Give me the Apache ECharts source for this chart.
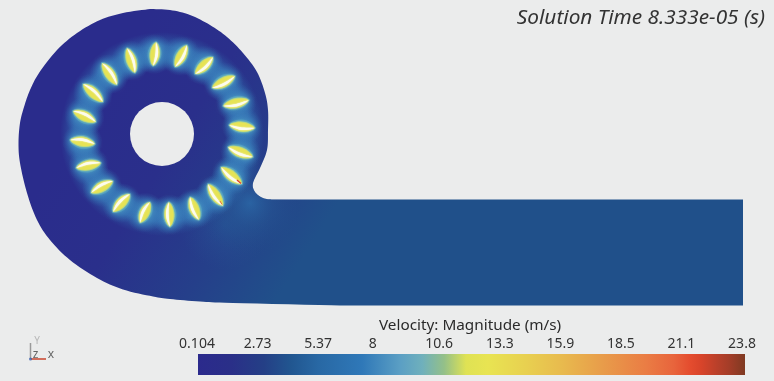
<!DOCTYPE html>
<html>
<head>
<meta charset="utf-8">
<style>html,body{margin:0;padding:0;background:#ebecec}#main{width:774px;height:381px;filter:blur(0.35px)}</style>
<script src="https://cdn.jsdelivr.net/npm/echarts@6/dist/echarts.min.js"></script>
</head>
<body>
<div id="main"></div>
<script>
// volute outline, x / y in image pixels, clockwise from the top
var casingX = [150, 170, 190, 210, 227, 243, 257, 265, 268, 268, 267, 260, 253, 255, 263, 272];
var casingY = [9, 10, 15, 25, 37, 53, 72, 93, 110, 130, 150, 168, 183, 192, 198, 199.5];
var ductX = [743, 743];
var ductY = [199.5, 305.5];
var lowerX = [340, 233, 200, 170, 153, 123, 97, 70, 50, 37, 27, 20, 18.5, 20, 24, 30, 39, 57, 77, 100, 123, 150];
var lowerY = [305.5, 303, 301.5, 299, 296.5, 289.5, 278, 260, 240, 220, 193, 163, 143, 123, 107, 90, 73, 50, 33, 20, 13, 9];
var hub = [162, 134, 32];

// blades: outer tip and inner tip
var bladeOuterX = [156, 187, 213, 235, 249, 255, 253, 242, 223, 199, 170, 140, 113, 91, 76, 70, 73, 83, 102, 127];
var bladeOuterY = [42, 45, 57, 76, 100, 128, 157, 184, 206, 220, 227, 223, 212, 193, 168, 140, 111, 84, 63, 48];
var bladeInnerX = [153, 175, 195, 212, 223, 229, 228, 221, 208, 190, 169, 150, 130, 113, 101, 95, 96, 103, 117, 135];
var bladeInnerY = [66, 67, 74, 88, 106, 125, 147, 167, 184, 197, 202, 202, 194, 181, 163, 144, 122, 102, 85, 73];
// the red hot spots on two blade tips
var hotTipA = [[237, 180], [241, 183.5]];
var hotTipB = [[220, 201], [222, 204.5]];

// colour bar
var velocityMin = 0.104;
var velocityMax = 23.8;
var tickLabels = ['0.104', '2.73', '5.37', '8', '10.6', '13.3', '15.9', '18.5', '21.1', '23.8'];
var barStops = [0, 0.06, 0.12, 0.17, 0.22, 0.3, 0.37, 0.41, 0.45, 0.49, 0.53, 0.6, 0.66, 0.74, 0.82, 0.87, 0.9, 0.92, 0.95, 0.97, 1];
var barColors = ['#2b2a8c', '#2a2f88', '#243f86', '#215690', '#2868a4', '#2f78b8', '#5b9fc4', '#6fb0bc', '#94c088', '#dfe254', '#e8e452', '#e8d050', '#e8bc4e', '#e89c4a', '#ea7c44', '#e8643c', '#e44c2e', '#d8442a', '#b8402a', '#a53d28', '#7f3a22'];

var bgColor = '#ebecec';
var centerX = hub[0], centerY = hub[1];

// catmull-rom through the outline so it draws as a curve
function spline(xs, ys) {
    var out = [];
    for (var i = 0; i < xs.length - 1; i++) {
        var a = Math.max(i - 1, 0), b = i, c = i + 1, d = Math.min(i + 2, xs.length - 1);
        for (var k = 0; k < 8; k++) {
            var t = k / 8, t2 = t * t, t3 = t2 * t;
            out.push([
                0.5 * (2 * xs[b] + (xs[c] - xs[a]) * t + (2 * xs[a] - 5 * xs[b] + 4 * xs[c] - xs[d]) * t2 + (3 * xs[b] - xs[a] - 3 * xs[c] + xs[d]) * t3),
                0.5 * (2 * ys[b] + (ys[c] - ys[a]) * t + (2 * ys[a] - 5 * ys[b] + 4 * ys[c] - ys[d]) * t2 + (3 * ys[b] - ys[a] - 3 * ys[c] + ys[d]) * t3)
            ]);
        }
    }
    out.push([xs[xs.length - 1], ys[ys.length - 1]]);
    return out;
}

var casingOutline = spline(casingX, casingY)
    .concat(ductX.map(function (x, i) { return [x, ductY[i]]; }))
    .concat(spline(lowerX, lowerY));

function casingPoints(api) {
    return casingOutline.map(function (p) { return api.coord(p); });
}

function renderCasing(params, api) {
    var a = api.coord([120, 60]), b = api.coord([340, 200]);
    var t = api.coord([250, 203]), t2 = api.coord([225, 225]);
    var pts = casingPoints(api);
    var base = new echarts.graphic.LinearGradient(a[0], a[1], b[0], b[1], [
        { offset: 0, color: '#2a2c8c' },
        { offset: 0.35, color: '#2a2f8b' },
        { offset: 0.7, color: '#253f8a' },
        { offset: 1, color: '#20508a' }
    ], true);
    var tongue = new echarts.graphic.RadialGradient(t[0], t[1], 52, [
        { offset: 0, color: 'rgba(44,112,172,0.7)' },
        { offset: 0.45, color: 'rgba(38,96,152,0.35)' },
        { offset: 1, color: 'rgba(32,80,138,0)' }
    ], true);
    var wake = new echarts.graphic.RadialGradient(t2[0], t2[1], 45, [
        { offset: 0, color: 'rgba(40,100,160,0.4)' },
        { offset: 1, color: 'rgba(40,90,150,0)' }
    ], true);
    return {
        type: 'group',
        children: [
            { type: 'polygon', shape: { points: pts }, style: { fill: base } },
            { type: 'polygon', shape: { points: pts }, style: { fill: wake } },
            { type: 'polygon', shape: { points: pts }, style: { fill: tongue } }
        ]
    };
}

// the haze in the ring that holds the blades
function renderRing(params, api) {
    var c = api.coord([centerX, centerY]);
    return {
        type: 'ring',
        shape: { cx: c[0], cy: c[1], r0: 62, r: 102 },
        style: {
            fill: new echarts.graphic.RadialGradient(c[0], c[1], 102, [
                { offset: 0.62, color: 'rgba(45,105,170,0)' },
                { offset: 0.72, color: 'rgba(48,112,178,0.6)' },
                { offset: 0.86, color: 'rgba(55,125,188,0.6)' },
                { offset: 1, color: 'rgba(45,105,170,0)' }
            ], true)
        }
    };
}

function lens(p0, p1, side, bulge, width, from, to) {
    var up = [], down = [];
    for (var k = 0; k <= 12; k++) {
        var s = k / 12, u = from + (to - from) * s;
        var x = p0[0] + (p1[0] - p0[0]) * u, y = p0[1] + (p1[1] - p0[1]) * u;
        var bow = bulge * Math.sin(Math.PI * u);
        var w = width * Math.pow(Math.sin(Math.PI * s), 0.7);
        up.push([x + side[0] * (bow + w), y + side[1] * (bow + w)]);
        down.push([x + side[0] * (bow - w), y + side[1] * (bow - w)]);
    }
    return up.concat(down.reverse());
}

function renderBlade(params, api) {
    var p0 = api.coord([api.value(0), api.value(1)]);
    var p1 = api.coord([api.value(2), api.value(3)]);
    var mx = (p0[0] + p1[0]) / 2, my = (p0[1] + p1[1]) / 2;
    var c = api.coord([centerX, centerY]);
    var dx = p1[0] - p0[0], dy = p1[1] - p0[1], len = Math.sqrt(dx * dx + dy * dy);
    var nx = -dy / len, ny = dx / len;
    // white edge sits on the side the rotor turns towards (clockwise)
    var tx = -(my - c[1]), ty = mx - c[0];
    if (nx * tx + ny * ty < 0) { nx = -nx; ny = -ny; }
    var side = [nx, ny];
    return {
        type: 'group',
        children: [
            {
                type: 'circle',
                shape: { cx: mx, cy: my, r: 20 },
                style: {
                    fill: new echarts.graphic.RadialGradient(mx, my, 20, [
                        { offset: 0, color: 'rgba(75,150,198,0.75)' },
                        { offset: 0.6, color: 'rgba(58,130,190,0.5)' },
                        { offset: 1, color: 'rgba(50,115,180,0)' }
                    ], true)
                }
            },
            {
                type: 'polygon',
                shape: { points: lens(p0, p1, side, 0, 7, -0.04, 1.04) },
                style: { fill: 'rgba(75,155,198,0.85)', shadowBlur: 6, shadowColor: '#459ac6' }
            },
            {
                type: 'polygon',
                shape: { points: lens(p0, p1, side, 0.3, 5.2, 0, 1) },
                style: { fill: '#b4d884', shadowBlur: 2.5, shadowColor: '#a8d8a0' }
            },
            {
                type: 'polygon',
                shape: { points: lens(p0, p1, side, 0.4, 4.2, 0.03, 0.97) },
                style: { fill: '#e6e355', shadowBlur: 1.5, shadowColor: '#e6e355' }
            },
            {
                type: 'polygon',
                shape: { points: lens(p0, p1, side, 2.2, 1.3, 0.01, 0.99) },
                style: { fill: '#fcfcee', shadowBlur: 1.5, shadowColor: '#ffffff' }
            }
        ]
    };
}

function renderHub(params, api) {
    var c = api.coord([api.value(0), api.value(1)]);
    return { type: 'circle', shape: { cx: c[0], cy: c[1], r: api.value(2) }, style: { fill: bgColor } };
}

function renderColorBar(params, api) {
    var a = api.coord([api.value(0), 1]), b = api.coord([api.value(1), 0]);
    return {
        type: 'rect',
        shape: { x: a[0], y: a[1], width: b[0] - a[0], height: b[1] - a[1] },
        style: {
            fill: new echarts.graphic.LinearGradient(0, 0, 1, 0, barStops.map(function (s, i) {
                return { offset: s, color: barColors[i] };
            }))
        }
    };
}

var bladeData = bladeOuterX.map(function (x, i) {
    return [x, bladeOuterY[i], bladeInnerX[i], bladeInnerY[i]];
});

var chart = echarts.init(document.getElementById('main'));
var option = {
    animation: false,
    backgroundColor: bgColor,
    title: [
        {
            text: 'Solution Time 8.333e-05 (s)',
            right: 9,
            top: 8,
            padding: 0,
            textStyle: { fontFamily: 'Noto Sans', fontStyle: 'italic', fontWeight: 'normal', fontSize: 20.8, color: '#333' }
        },
        {
            text: 'Velocity: Magnitude (m/s)',
            left: 379,
            top: 318,
            padding: 0,
            textStyle: { fontFamily: 'Noto Sans', fontWeight: 'normal', fontSize: 15.3, color: '#2a2a2a' }
        }
    ],
    grid: [
        { left: 0, top: 0, width: 774, height: 381 },
        { left: 198, top: 354, width: 547, height: 21 },
        { left: 197, top: 354, width: 545, height: 21 }
    ],
    xAxis: [
        { type: 'value', gridIndex: 0, min: 0, max: 774, show: false },
        { type: 'value', gridIndex: 1, min: velocityMin, max: velocityMax, show: false },
        {
            type: 'category',
            gridIndex: 2,
            position: 'top',
            data: tickLabels,
            boundaryGap: false,
            axisLine: { show: false },
            axisTick: { show: false },
            splitLine: { show: false },
            axisLabel: {
                interval: 0,
                margin: 3,
                fontFamily: 'Noto Sans',
                fontSize: 14,
                color: '#333',
                formatter: function (v) { return v === '8' ? '{s|8}' : v; },
                rich: { s: { fontFamily: 'Noto Sans', fontSize: 14, color: '#333', padding: [0, 12, 0, 0] } }
            }
        }
    ],
    yAxis: [
        { type: 'value', gridIndex: 0, min: 0, max: 381, inverse: true, show: false },
        { type: 'value', gridIndex: 1, min: 0, max: 1, show: false },
        { type: 'value', gridIndex: 2, min: 0, max: 1, show: false }
    ],
    series: [
        { type: 'custom', xAxisIndex: 0, yAxisIndex: 0, silent: true, clip: false, renderItem: renderCasing, data: [[0, 0]], z: 1 },
        { type: 'custom', xAxisIndex: 0, yAxisIndex: 0, silent: true, renderItem: renderRing, data: [[centerX, centerY]], z: 2 },
        { type: 'custom', xAxisIndex: 0, yAxisIndex: 0, silent: true, renderItem: renderBlade, data: bladeData, z: 3 },
        { type: 'custom', xAxisIndex: 0, yAxisIndex: 0, silent: true, renderItem: renderHub, data: [hub], z: 4 },
        { type: 'custom', xAxisIndex: 1, yAxisIndex: 1, silent: true, renderItem: renderColorBar, data: [[velocityMin, velocityMax]], z: 2 },
        { type: 'line', xAxisIndex: 0, yAxisIndex: 0, silent: true, symbol: 'none', lineStyle: { color: '#e0402a', width: 1.3 }, data: hotTipA, z: 5 },
        { type: 'line', xAxisIndex: 0, yAxisIndex: 0, silent: true, symbol: 'none', lineStyle: { color: '#e8703a', width: 1 }, data: hotTipB, z: 5 },
        // little xyz triad, bottom left
        { type: 'line', xAxisIndex: 0, yAxisIndex: 0, silent: true, symbol: 'none', lineStyle: { color: '#9a9a9a', width: 1.5 }, data: [[30.5, 359], [30.5, 343]], z: 5 },
        { type: 'line', xAxisIndex: 0, yAxisIndex: 0, silent: true, symbol: 'none', lineStyle: { color: '#c8452c', width: 1.5 }, data: [[31, 359], [46, 359]], z: 5 },
        {
            type: 'scatter', xAxisIndex: 0, yAxisIndex: 0, silent: true, symbolSize: 3, z: 6,
            itemStyle: { color: '#3a5fb0' },
            data: [[30.5, 359]]
        },
        {
            type: 'scatter', xAxisIndex: 0, yAxisIndex: 0, silent: true, symbolSize: 0, z: 6,
            data: [
                { value: [37, 341], name: 'Y', label: { color: '#aaa', fontSize: 10 } },
                { value: [35.5, 355], name: 'z', label: { color: '#444' } },
                { value: [51, 355], name: 'x', label: { color: '#444' } }
            ],
            label: { show: true, position: 'inside', formatter: '{b}', fontFamily: 'Noto Sans', fontSize: 12 }
        }
    ]
};
chart.setOption(option);
window.addEventListener('resize', function () {
    chart.resize();
});
</script>
</body>
</html>
